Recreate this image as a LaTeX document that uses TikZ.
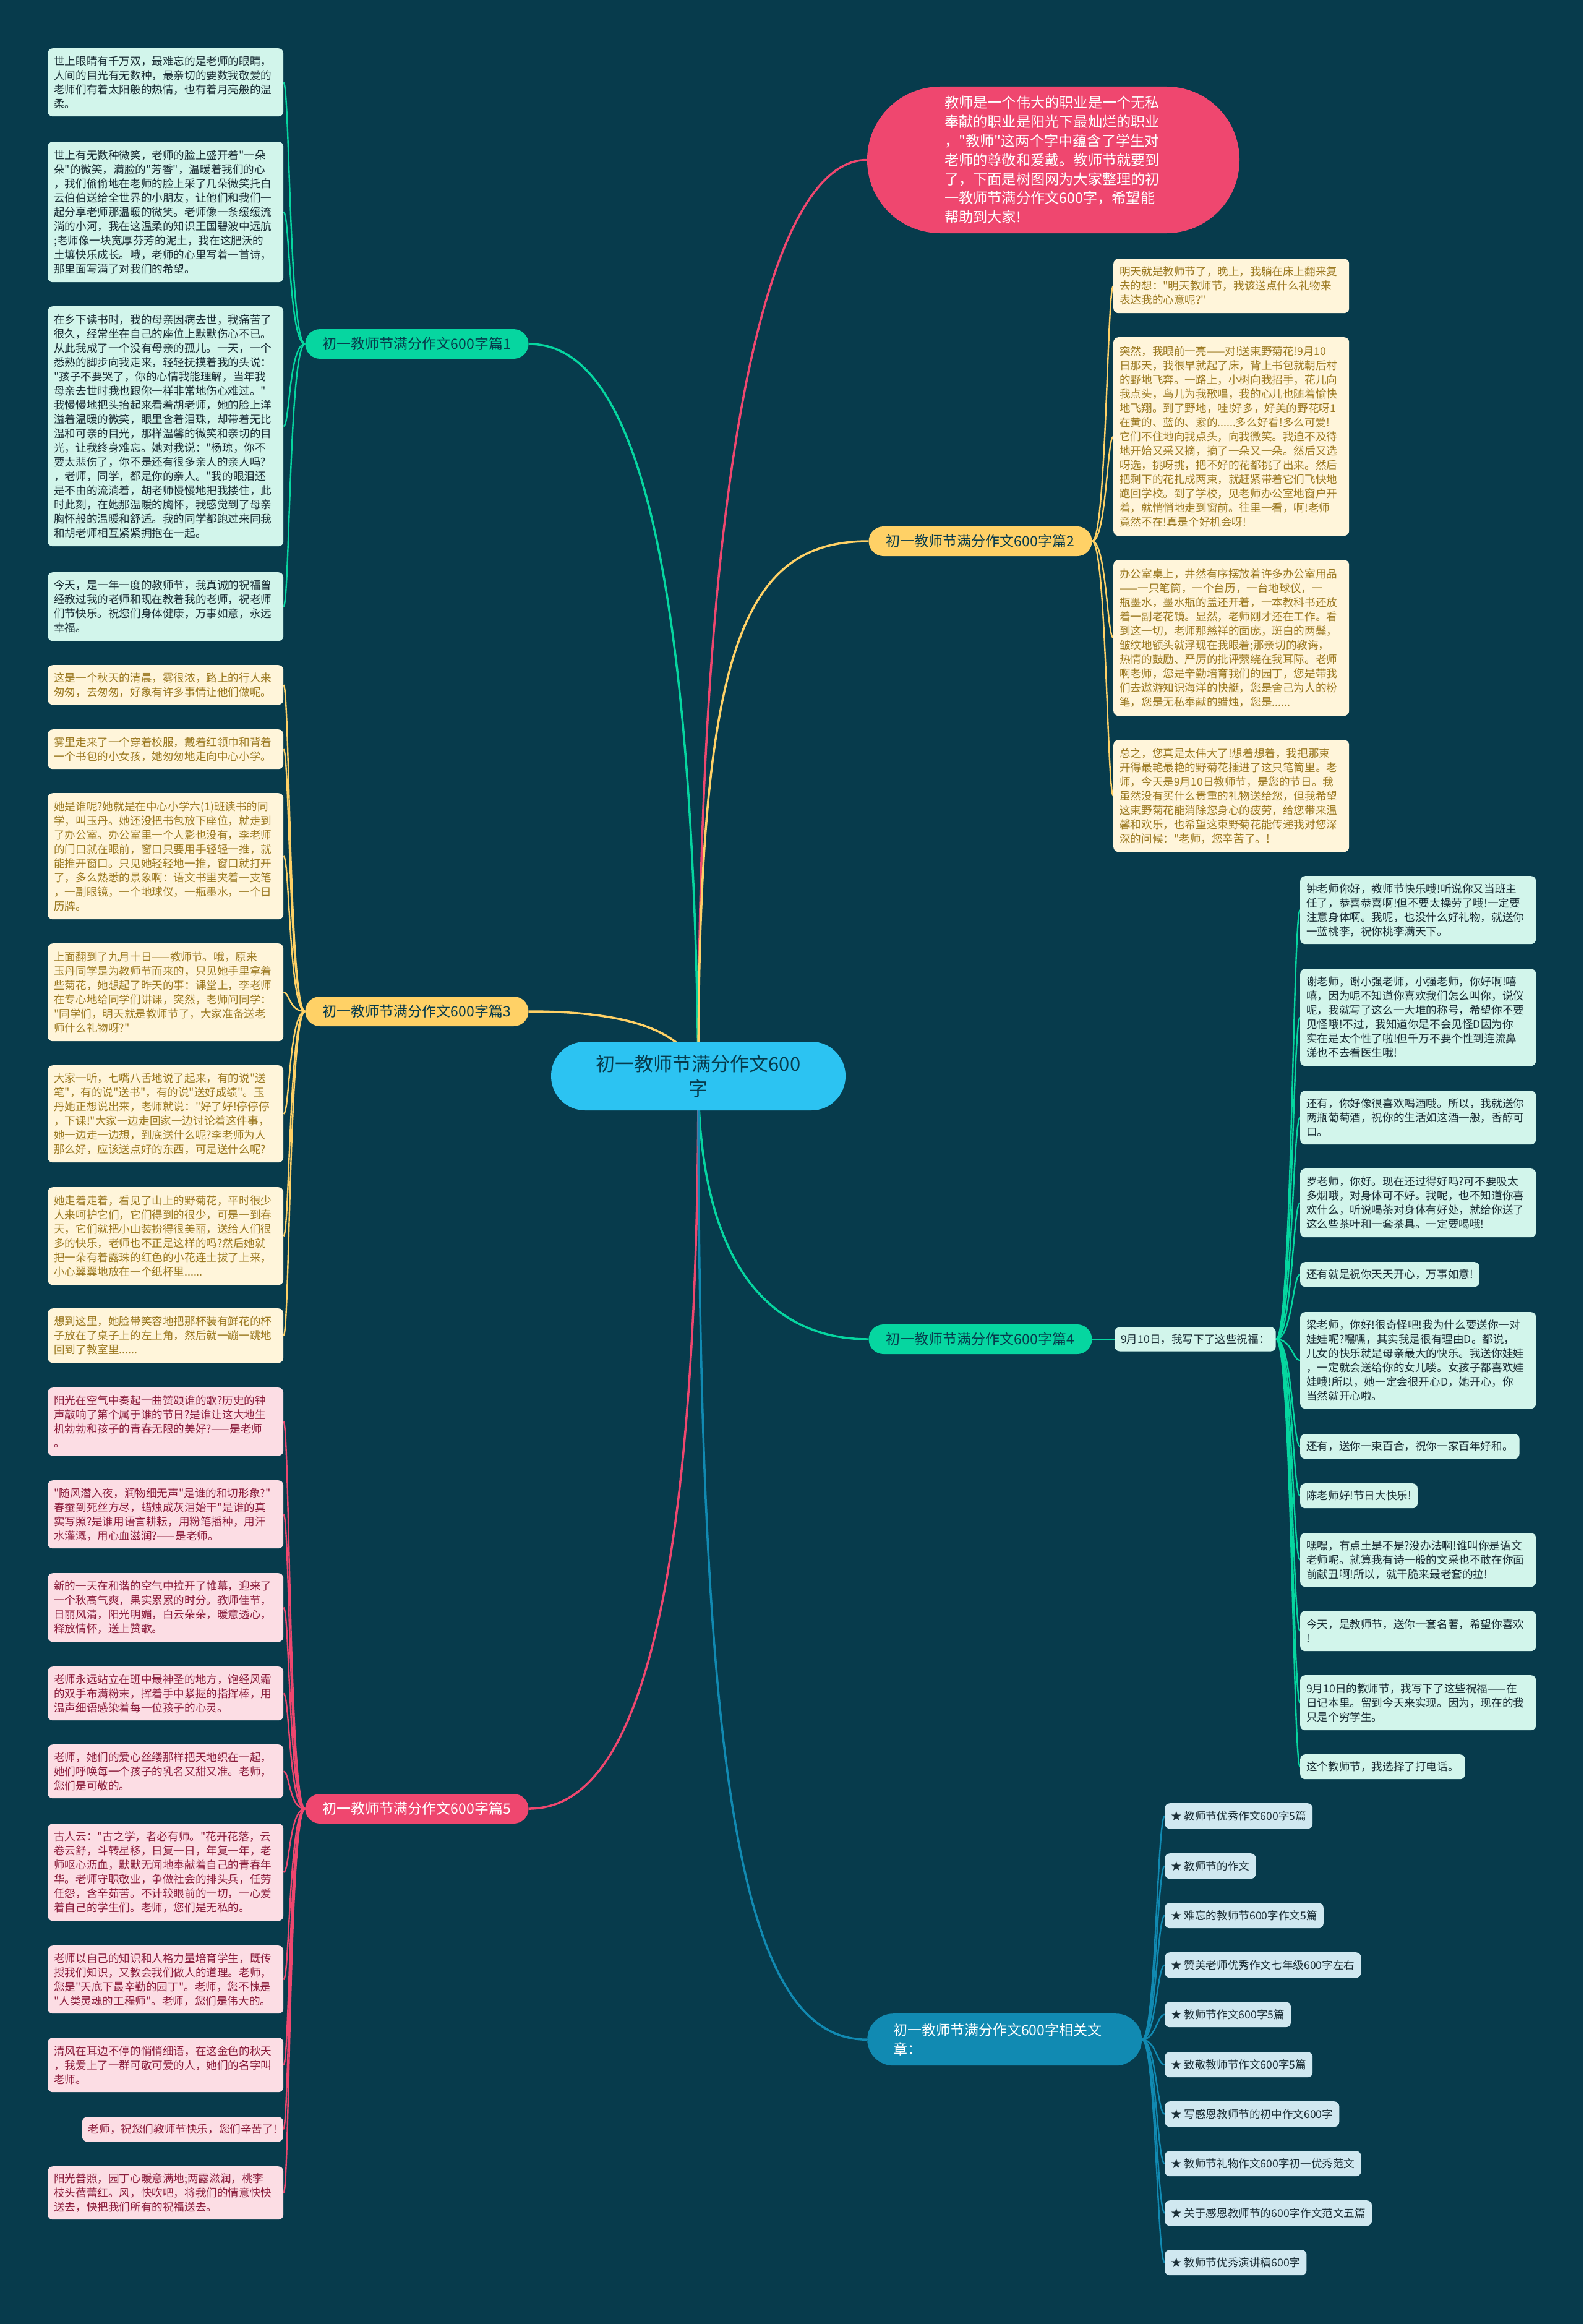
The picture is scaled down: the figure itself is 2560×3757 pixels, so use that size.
\documentclass[tikz,border=0pt]{standalone}
\usepackage{fontspec}
\setmainfont{Noto Sans CJK SC}
\newfontfamily\cjkf{Noto Sans CJK SC}
\pgfdeclarelayer{bg}
\pgfdeclarelayer{edges}
\pgfsetlayers{bg,edges,main}
\definecolor{bgc}{HTML}{073B4C}
\definecolor{cgreen}{HTML}{06D6A0}
\definecolor{cyellow}{HTML}{FFD166}
\definecolor{cpink}{HTML}{EF476F}
\definecolor{cblue}{HTML}{118AB2}
\definecolor{ccenter}{HTML}{2CC3F2}
\definecolor{fgreen}{HTML}{D2F5EB}
\definecolor{fyellow}{HTML}{FFF5DA}
\definecolor{fpink}{HTML}{FCDDE4}
\definecolor{fblue}{HTML}{D0E8F0}
\definecolor{tdark}{HTML}{1B2E36}
\definecolor{tyellow}{HTML}{9C7A22}
\definecolor{tpink}{HTML}{8C1D3C}
\tikzset{
  tb/.style={rounded corners=8pt, inner xsep=10pt, inner ysep=2pt, font=\cjkf\fontsize{17.6}{23}\selectfont, align=left},
  wb/.style={tb, text width=361pt, anchor=north west},
  gb/.style={wb, fill=fgreen, text=tdark},
  yb/.style={wb, fill=fyellow, text=tyellow},
  pb/.style={wb, fill=fpink, text=tpink},
  sg/.style={tb, fill=fgreen, text=tdark, minimum height=40pt, anchor=north west},
  lb/.style={tb, fill=fblue, text=tdark, minimum height=41pt, anchor=north west},
  br/.style={rounded corners=24pt, minimum width=361pt, minimum height=48pt, font=\cjkf\fontsize{23}{28}\selectfont, inner sep=0pt},
  mainline/.style={line width=3.5pt},
  subline/.style={line width=2.4pt}
}
\begin{document}
\begin{tikzpicture}[x=1pt,y=-1pt]
\begin{pgfonlayer}{bg}
\fill[bgc] (0,0) rectangle (2560,3757);
\end{pgfonlayer}
\useasboundingbox (0,0) rectangle (2560,3757);

% center
\node[fill=ccenter, text=bgc, rounded corners=55pt, minimum width=476pt, minimum height=111pt, font=\cjkf\fontsize{31}{40}\selectfont, align=center, inner sep=0pt] (c) at (1129,1739.5) {初一教师节满分作文600\\字};

% bubble
\node[fill=cpink, text=white, rounded corners=118pt, minimum width=602pt, minimum height=237pt, font=\cjkf\fontsize{23.2}{30.8}\selectfont, align=left, text width=352pt, inner sep=0pt] (bub) at (1703,258.5) {教师是一个伟大的职业是一个无私\\奉献的职业是阳光下最灿烂的职业\\，"教师"这两个字中蕴含了学生对\\老师的尊敬和爱戴。教师节就要到\\了，下面是树图网为大家整理的初\\一教师节满分作文600字，希望能\\帮助到大家!};

% branches
\node[br, fill=cgreen, text=bgc] (b1) at (674,556) {初一教师节满分作文600字篇1};
\node[br, fill=cyellow, text=bgc] (b2) at (1585,875) {初一教师节满分作文600字篇2};
\node[br, fill=cyellow, text=bgc] (b3) at (674,1635) {初一教师节满分作文600字篇3};
\node[br, fill=cgreen, text=bgc] (b4) at (1585,2165) {初一教师节满分作文600字篇4};
\node[br, fill=cpink, text=white] (b5) at (674,2924) {初一教师节满分作文600字篇5};
\node[fill=cblue, text=white, rounded corners=42pt, minimum height=84pt, text width=360pt, inner xsep=42pt, inner ysep=0pt, align=left, font=\cjkf\fontsize{23}{31}\selectfont, anchor=north west] (b6) at (1402,3255) {初一教师节满分作文600字相关文\\章：};

% section 1
\node[gb, minimum height=110pt] (l1a) at (77,78) {世上眼睛有千万双，最难忘的是老师的眼睛，\\人间的目光有无数种，最亲切的要数我敬爱的\\老师们有着太阳般的热情，也有着月亮般的温\\柔。};
\node[gb, minimum height=227pt] (l1b) at (77,229) {世上有无数种微笑，老师的脸上盛开着"一朵\\朵"的微笑，满脸的"芳香"，温暖着我们的心\\，我们偷偷地在老师的脸上采了几朵微笑托白\\云伯伯送给全世界的小朋友，让他们和我们一\\起分享老师那温暖的微笑。老师像一条缓缓流\\淌的小河，我在这温柔的知识王国碧波中远航\\;老师像一块宽厚芬芳的泥土，我在这肥沃的\\土壤快乐成长。哦，老师的心里写着一首诗，\\那里面写满了对我们的希望。};
\node[gb, minimum height=388pt] (l1c) at (77,495) {在乡下读书时，我的母亲因病去世，我痛苦了\\很久，经常坐在自己的座位上默默伤心不已。\\从此我成了一个没有母亲的孤儿。一天，一个\\悉熟的脚步向我走来，轻轻抚摸着我的头说：\\"孩子不要哭了，你的心情我能理解，当年我\\母亲去世时我也跟你一样非常地伤心难过。"\\我慢慢地把头抬起来看着胡老师，她的脸上洋\\溢着温暖的微笑，眼里含着泪珠，却带着无比\\温和可亲的目光，那样温馨的微笑和亲切的目\\光，让我终身难忘。她对我说："杨琼，你不\\要太悲伤了，你不是还有很多亲人的亲人吗?\\，老师，同学，都是你的亲人。"我的眼泪还\\是不由的流淌着，胡老师慢慢地把我搂住，此\\时此刻，在她那温暖的胸怀，我感觉到了母亲\\胸怀般的温暖和舒适。我的同学都跑过来同我\\和胡老师相互紧紧拥抱在一起。};
\node[gb, minimum height=111pt] (l1d) at (77,925) {今天，是一年一度的教师节，我真诚的祝福曾\\经教过我的老师和现在教着我的老师，祝老师\\们节快乐。祝您们身体健康，万事如意，永远\\幸福。};

% section 3
\node[yb, minimum height=64pt] (l3a) at (77,1075) {这是一个秋天的清晨，雾很浓，路上的行人来\\匆匆，去匆匆，好象有许多事情让他们做呢。};
\node[yb, minimum height=64pt] (l3b) at (77,1179) {雾里走来了一个穿着校服，戴着红领巾和背着\\一个书包的小女孩，她匆匆地走向中心小学。};
\node[yb, minimum height=204pt] (l3c) at (77,1282) {她是谁呢?她就是在中心小学六(1)班读书的同\\学，叫玉丹。她还没把书包放下座位，就走到\\了办公室。办公室里一个人影也没有，李老师\\的门口就在眼前，窗口只要用手轻轻一推，就\\能推开窗口。只见她轻轻地一推，窗口就打开\\了，多么熟悉的景象啊：语文书里夹着一支笔\\，一副眼镜，一个地球仪，一瓶墨水，一个日\\历牌。};
\node[yb, minimum height=158pt] (l3d) at (77,1525) {上面翻到了九月十日——教师节。哦，原来\\玉丹同学是为教师节而来的，只见她手里拿着\\些菊花，她想起了昨天的事：课堂上，李老师\\在专心地给同学们讲课，突然，老师问同学：\\"同学们，明天就是教师节了，大家准备送老\\师什么礼物呀?"};
\node[yb, minimum height=157pt] (l3e) at (77,1722) {大家一听，七嘴八舌地说了起来，有的说"送\\笔"，有的说"送书"，有的说"送好成绩"。玉\\丹她正想说出来，老师就说："好了好!停停停\\，下课!"大家一边走回家一边讨论着这件事，\\她一边走一边想，到底送什么呢?李老师为人\\那么好，应该送点好的东西，可是送什么呢?};
\node[yb, minimum height=158pt] (l3f) at (77,1919) {她走着走着，看见了山上的野菊花，平时很少\\人来呵护它们，它们得到的很少，可是一到春\\天，它们就把小山装扮得很美丽，送给人们很\\多的快乐，老师也不正是这样的吗?然后她就\\把一朵有着露珠的红色的小花连土拔了上来，\\小心翼翼地放在一个纸杯里......};
\node[yb, minimum height=88pt] (l3g) at (77,2115) {想到这里，她脸带笑容地把那杯装有鲜花的杯\\子放在了桌子上的左上角，然后就一蹦一跳地\\回到了教室里......};

% section 5
\node[pb, minimum height=110pt] (l5a) at (77,2243) {阳光在空气中奏起一曲赞颂谁的歌?历史的钟\\声敲响了第个属于谁的节日?是谁让这大地生\\机勃勃和孩子的青春无限的美好?——是老师\\。};
\node[pb, minimum height=110pt] (l5b) at (77,2393) {"随风潜入夜，润物细无声"是谁的和切形象?"\\春蚕到死丝方尽，蜡烛成灰泪始干"是谁的真\\实写照?是谁用语言耕耘，用粉笔播种，用汗\\水灌溉，用心血滋润?——是老师。};
\node[pb, minimum height=111pt] (l5c) at (77,2543) {新的一天在和谐的空气中拉开了帷幕，迎来了\\一个秋高气爽，果实累累的时分。教师佳节，\\日丽风清，阳光明媚，白云朵朵，暖意透心，\\释放情怀，送上赞歌。};
\node[pb, minimum height=87pt] (l5d) at (77,2694) {老师永远站立在班中最神圣的地方，饱经风霜\\的双手布满粉末，挥着手中紧握的指挥棒，用\\温声细语感染着每一位孩子的心灵。};
\node[pb, minimum height=87pt] (l5e) at (77,2820) {老师，她们的爱心丝缕那样把天地织在一起，\\她们呼唤每一个孩子的乳名又甜又准。老师，\\您们是可敬的。};
\node[pb, minimum height=157pt] (l5f) at (77,2948) {古人云："古之学，者必有师。"花开花落，云\\卷云舒，斗转星移，日复一日，年复一年，老\\师呕心沥血，默默无闻地奉献着自己的青春年\\华。老师守职敬业，争做社会的排头兵，任劳\\任怨，含辛茹苦。不计较眼前的一切，一心爱\\着自己的学生们。老师，您们是无私的。};
\node[pb, minimum height=110pt] (l5g) at (77,3145) {老师以自己的知识和人格力量培育学生，既传\\授我们知识，又教会我们做人的道理。老师，\\您是"天底下最辛勤的园丁"。老师，您不愧是\\"人类灵魂的工程师"。老师，您们是伟大的。};
\node[pb, minimum height=88pt] (l5h) at (77,3294) {清风在耳边不停的悄悄细语，在这金色的秋天\\，我爱上了一群可敬可爱的人，她们的名字叫\\老师。};
\node[tb, fill=fpink, text=tpink, minimum height=40pt, anchor=north east] (l5i) at (458,3422) {老师，祝您们教师节快乐，您们辛苦了!};
\node[pb, minimum height=86pt] (l5j) at (77,3502) {阳光普照，园丁心暖意满地;两露滋润，桃李\\枝头蓓蕾红。风，快吹吧，将我们的情意快快\\送去，快把我们所有的祝福送去。};

% section 2
\node[yb, minimum height=88pt] (r2a) at (1800,418) {明天就是教师节了，晚上，我躺在床上翻来复\\去的想："明天教师节，我该送点什么礼物来\\表达我的心意呢?"};
\node[yb, minimum height=321pt] (r2b) at (1800,545) {突然，我眼前一亮——对!送束野菊花!9月10\\日那天，我很早就起了床，背上书包就朝后村\\的野地飞奔。一路上，小树向我招手，花儿向\\我点头，鸟儿为我歌唱，我的心儿也随着愉快\\地飞翔。到了野地，哇!好多，好美的野花呀1\\在黄的、蓝的、紫的......多么好看!多么可爱!\\它们不住地向我点头，向我微笑。我迫不及待\\地开始又采又摘，摘了一朵又一朵。然后又选\\呀选，挑呀挑，把不好的花都挑了出来。然后\\把剩下的花扎成两束，就赶紧带着它们飞快地\\跑回学校。到了学校，见老师办公室地窗户开\\着，就悄悄地走到窗前。往里一看，啊!老师\\竟然不在!真是个好机会呀!};
\node[yb, minimum height=252pt] (r2c) at (1800,905) {办公室桌上，井然有序摆放着许多办公室用品\\——一只笔筒，一个台历，一台地球仪，一\\瓶墨水，墨水瓶的盖还开着，一本教科书还放\\着一副老花镜。显然，老师刚才还在工作。看\\到这一切，老师那慈祥的面庞，斑白的两鬓，\\皱纹地额头就浮现在我眼着;那亲切的教诲，\\热情的鼓励、严厉的批评萦绕在我耳际。老师\\啊老师，您是辛勤培育我们的园丁，您是带我\\们去遨游知识海洋的快艇，您是舍己为人的粉\\笔，您是无私奉献的蜡烛，您是......};
\node[yb, minimum height=181pt] (r2d) at (1800,1196) {总之，您真是太伟大了!想着想着，我把那束\\开得最艳最艳的野菊花插进了这只笔筒里。老\\师，今天是9月10日教师节，是您的节日。我\\虽然没有买什么贵重的礼物送给您，但我希望\\这束野菊花能消除您身心的疲劳，给您带来温\\馨和欢乐，也希望这束野菊花能传递我对您深\\深的问候："老师，您辛苦了。!};

% section 4
\node[sg, anchor=west, minimum height=39pt] (i4) at (1802,2165) {9月10日，我写下了这些祝福：};
\node[gb, minimum height=110pt] (r4a) at (2102,1416) {钟老师你好，教师节快乐哦!听说你又当班主\\任了，恭喜恭喜啊!但不要太操劳了哦!一定要\\注意身体啊。我呢，也没什么好礼物，就送你\\一蓝桃李，祝你桃李满天下。};
\node[gb, minimum height=157pt] (r4b) at (2102,1566) {谢老师，谢小强老师，小强老师，你好啊!嘻\\嘻，因为呢不知道你喜欢我们怎么叫你，说仪\\呢，我就写了这么一大堆的称号，希望你不要\\见怪哦!不过，我知道你是不会见怪D因为你\\实在是太个性了啦!但千万不要个性到连流鼻\\涕也不去看医生哦!};
\node[gb, minimum height=87pt] (r4c) at (2102,1763) {还有，你好像很喜欢喝酒哦。所以，我就送你\\两瓶葡萄酒，祝你的生活如这酒一般，香醇可\\口。};
\node[gb, minimum height=111pt] (r4d) at (2102,1889) {罗老师，你好。现在还过得好吗?可不要吸太\\多烟哦，对身体可不好。我呢，也不知道你喜\\欢什么，听说喝茶对身体有好处，就给你送了\\这么些茶叶和一套茶具。一定要喝哦!};
\node[sg] (r4e) at (2102,2040) {还有就是祝你天天开心，万事如意!};
\node[gb, minimum height=156pt] (r4f) at (2102,2121) {梁老师，你好!很奇怪吧!我为什么要送你一对\\娃娃呢?嘿嘿，其实我是很有理由D。都说，\\儿女的快乐就是母亲最大的快乐。我送你娃娃\\，一定就会送给你的女儿喽。女孩子都喜欢娃\\娃哦!所以，她一定会很开心D，她开心，你\\当然就开心啦。};
\node[sg] (r4g) at (2102,2318) {还有，送你一束百合，祝你一家百年好和。};
\node[sg] (r4h) at (2102,2398) {陈老师好!节日大快乐!};
\node[gb, minimum height=87pt] (r4i) at (2102,2478) {嘿嘿，有点土是不是?没办法啊!谁叫你是语文\\老师呢。就算我有诗一般的文采也不敢在你面\\前献丑啊!所以，就干脆来最老套的拉!};
\node[gb, minimum height=65pt] (r4j) at (2102,2604) {今天，是教师节，送你一套名著，希望你喜欢\\!};
\node[gb, minimum height=89pt] (r4k) at (2102,2708) {9月10日的教师节，我写下了这些祝福——在\\日记本里。留到今天来实现。因为，现在的我\\只是个穷学生。};
\node[sg] (r4l) at (2102,2836) {这个教师节，我选择了打电话。};

% section 6
\node[lb] (s1) at (1883,2915) {★ 教师节优秀作文600字5篇};
\node[lb] (s2) at (1883,2996) {★ 教师节的作文};
\node[lb] (s3) at (1883,3076) {★ 难忘的教师节600字作文5篇};
\node[lb] (s4) at (1883,3156) {★ 赞美老师优秀作文七年级600字左右};
\node[lb] (s5) at (1883,3236) {★ 教师节作文600字5篇};
\node[lb] (s6) at (1883,3317) {★ 致敬教师节作文600字5篇};
\node[lb] (s7) at (1883,3397) {★ 写感恩教师节的初中作文600字};
\node[lb] (s8) at (1883,3477) {★ 教师节礼物作文600字初一优秀范文};
\node[lb] (s9) at (1883,3557) {★ 关于感恩教师节的600字作文范文五篇};
\node[lb] (s10) at (1883,3637) {★ 教师节优秀演讲稿600字};

\begin{pgfonlayer}{edges}
\draw[mainline, cpink] (c.center) .. controls (1129,700) and (1250,258) .. (bub.west);
\draw[mainline, cgreen] (c.center) .. controls (1120,800) and (1000,556) .. (b1.east);
\draw[mainline, cyellow] (c.center) .. controls (1129,1050) and (1200,875) .. (b2.west);
\draw[mainline, cyellow] (c.center) .. controls (1110,1660) and (1000,1635) .. (b3.east);
\draw[mainline, cgreen] (c.center) .. controls (1129,2050) and (1250,2165) .. (b4.west);
\draw[mainline, cpink] (c.center) .. controls (1129,2700) and (1000,2924) .. (b5.east);
\draw[mainline, cblue] (c.center) .. controls (1129,2900) and (1200,3297) .. (b6.west);

\foreach \n in {l1a,l1b,l1c,l1d}
  \draw[subline, cgreen] (b1.west) .. controls ([xshift=-26pt]b1.west) and ([xshift=10pt]\n.east) .. (\n.east);
\foreach \n in {l3a,l3b,l3c,l3d,l3e,l3f,l3g}
  \draw[subline, cyellow] (b3.west) .. controls ([xshift=-26pt]b3.west) and ([xshift=10pt]\n.east) .. (\n.east);
\foreach \n in {l5a,l5b,l5c,l5d,l5e,l5f,l5g,l5h,l5i,l5j}
  \draw[subline, cpink] (b5.west) .. controls ([xshift=-26pt]b5.west) and ([xshift=10pt]\n.east) .. (\n.east);
\foreach \n in {r2a,r2b,r2c,r2d}
  \draw[subline, cyellow] (b2.east) .. controls ([xshift=23pt]b2.east) and ([xshift=-10pt]\n.west) .. (\n.west);
\draw[subline, cgreen] (b4.east) -- (i4.west);
\foreach \n in {r4a,r4b,r4c,r4d,r4e,r4f,r4g,r4h,r4i,r4j,r4k,r4l}
  \draw[subline, cgreen] (i4.east) .. controls ([xshift=26pt]i4.east) and ([xshift=-12pt]\n.west) .. (\n.west);
\foreach \n in {s1,s2,s3,s4,s5,s6,s7,s8,s9,s10}
  \draw[subline, cblue] (b6.east) .. controls ([xshift=22pt]b6.east) and ([xshift=-12pt]\n.west) .. (\n.west);
\end{pgfonlayer}
\end{tikzpicture}
\end{document}
